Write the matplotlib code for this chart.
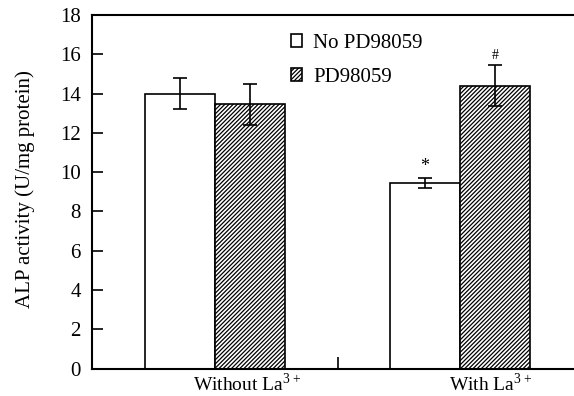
import matplotlib
matplotlib.use("Agg")
import matplotlib.pyplot as plt
from matplotlib.patches import Patch

plt.rcParams['font.family'] = ['Liberation Serif', 'DejaVu Serif']
plt.rcParams['mathtext.fontset'] = 'custom'
plt.rcParams['mathtext.rm'] = 'Liberation Serif'
plt.rcParams['hatch.linewidth'] = 0.9

groups = ['Without La$^{3+}$', 'With La$^{3+}$']
series_names = ['No PD98059', 'PD98059']
no_pd = [14.0, 9.45]
no_pd_err = [0.8, 0.27]
pd = [13.45, 14.4]
pd_err = [1.05, 1.05]
marks_no = ['', '*']
marks_pd = ['', '#']
yticks = [0, 2, 4, 6, 8, 10, 12, 14, 16, 18]

fig = plt.figure(figsize=(5.74, 3.96), dpi=100)
ax = fig.add_axes([92/574, 1-368.6/396, 1-92/574, (368.6-15)/396])

w = 0.286
pos = [0, 1]
x_no = [p - w/2 for p in pos]
x_pd = [p + w/2 for p in pos]

ax.bar(x_no, no_pd, width=w, color='white', edgecolor='black', linewidth=1.2, zorder=2)
ax.bar(x_pd, pd, width=w, color='white', edgecolor='black', linewidth=1.2, hatch='////////', zorder=2)
ekw = dict(fmt='none', ecolor='black', elinewidth=1.2, capsize=5, capthick=1.2, zorder=3)
ax.errorbar(x_no, no_pd, yerr=no_pd_err, **ekw)
ax.errorbar(x_pd, pd, yerr=pd_err, **ekw)

for x, v, e, m in zip(x_no, no_pd, no_pd_err, marks_no):
    if m:
        ax.text(x, v + e + 0.15, m, ha='center', va='bottom', fontsize=13)
for x, v, e, m in zip(x_pd, pd, pd_err, marks_pd):
    if m:
        ax.text(x, v + e + 0.15, m, ha='center', va='bottom', fontsize=10)

ax.set_xlim(-0.502, 1.465)
ax.set_ylim(0, 18)
ax.set_yticks(yticks)
ax.tick_params(axis='y', direction='in', length=8, width=1.2, pad=8, labelsize=15)
ax.set_xticks([0.13, 1.125])
ax.set_xticklabels(groups, fontsize=14)
ax.tick_params(axis='x', length=0, pad=3)
ax.set_xticks([0.503], minor=True)
ax.tick_params(axis='x', which='minor', direction='in', length=9, width=1.2)

for s in ['left', 'bottom', 'top']:
    ax.spines[s].set_linewidth(1.5)
ax.spines['right'].set_visible(False)

ax.set_ylabel('ALP activity (U/mg protein)', fontsize=15)
ax.yaxis.set_label_coords(-0.118, 0.508)

handles = [Patch(facecolor='white', edgecolor='black', linewidth=1.2),
           Patch(facecolor='white', edgecolor='black', linewidth=1.2, hatch='////////')]
ax.legend(handles, series_names, loc='upper left', bbox_to_anchor=((291-92)/482, 0.947),
          frameon=False, fontsize=15, handlelength=0.55, handleheight=0.6,
          handletextpad=0.5, borderpad=0, borderaxespad=0, labelspacing=0.74)

fig.savefig('out.png', dpi=100)
